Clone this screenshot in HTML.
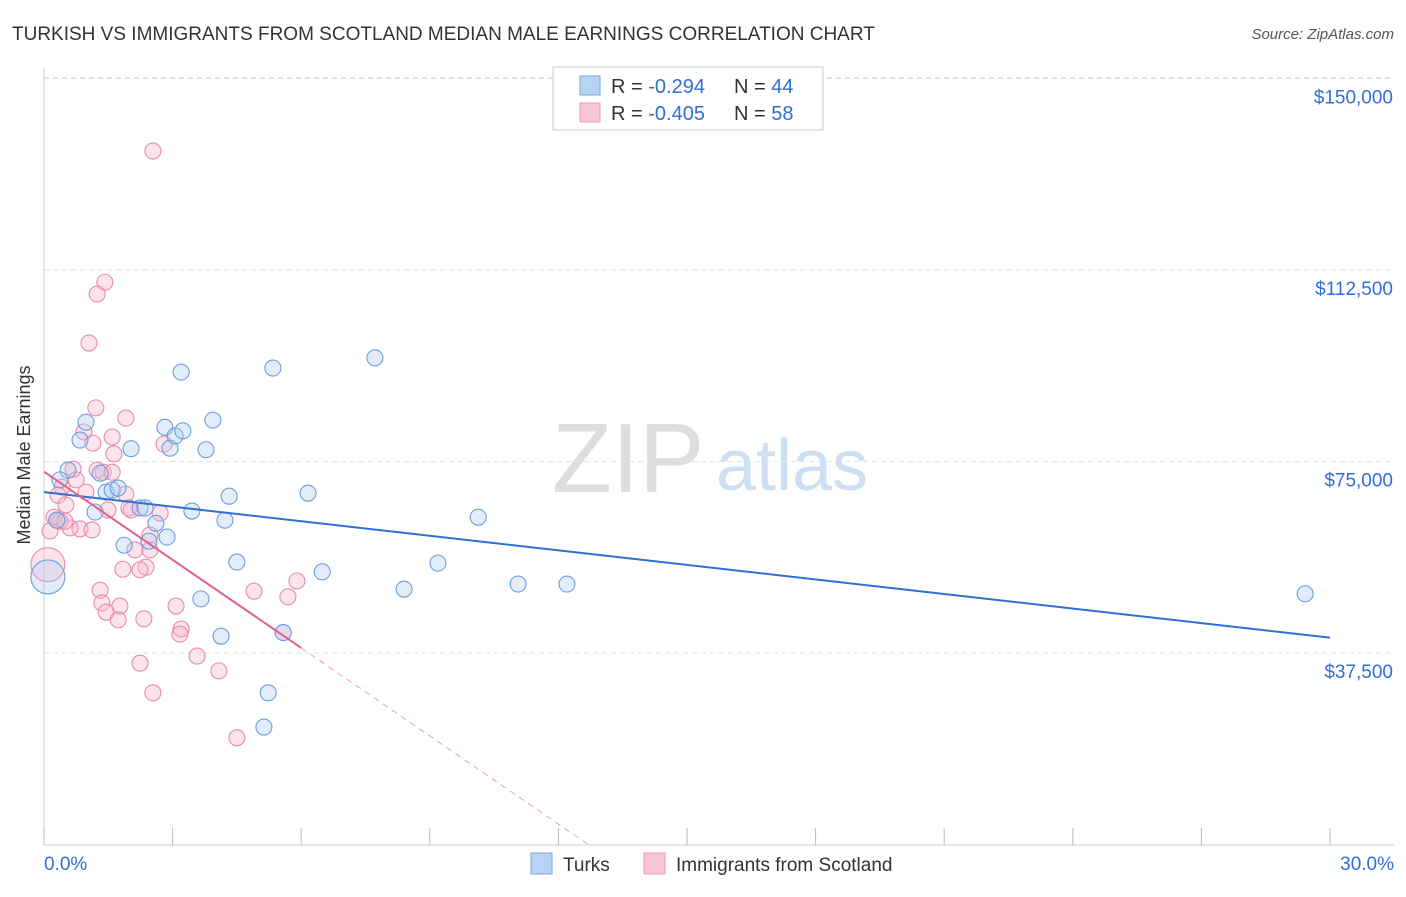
<!DOCTYPE html>
<html><head><meta charset="utf-8"><style>
body{margin:0;background:#fff;font-family:"Liberation Sans",sans-serif;}
svg text{font-family:"Liberation Sans",sans-serif;}
</style></head><body>
<svg id="chart" width="1406" height="892" xmlns="http://www.w3.org/2000/svg">
<text x="12" y="40" font-size="19" fill="#333">TURKISH VS IMMIGRANTS FROM SCOTLAND MEDIAN MALE EARNINGS CORRELATION CHART</text>
<text x="1394" y="39" font-size="15" fill="#555" text-anchor="end" font-style="italic">Source: ZipAtlas.com</text>
<text x="30" y="455" font-size="18" fill="#333" text-anchor="middle" transform="rotate(-90 30 455)">Median Male Earnings</text>
<g>
<text x="552" y="492" font-size="98" fill="#ddd" font-family="Liberation Serif">ZIP</text>
<text x="716" y="490" font-size="72" fill="#cfdff3">atlas</text>
</g>
<g id="grid"></g><g id="axes"></g><g id="marks"></g>
<g>
<rect x="553" y="67" width="270" height="63" fill="#fff" stroke="#ccc"/>
<rect x="580" y="76" width="20" height="19" fill="#b9d3f3" stroke="#7aa6df"/>
<rect x="580" y="103" width="20" height="19" fill="#f8c6d6" stroke="#ea9ab5"/>
<text x="611" y="93" font-size="20" fill="#333">R = <tspan fill="#2f6fd6">-0.294</tspan><tspan x="734">N = </tspan><tspan fill="#2f6fd6">44</tspan></text>
<text x="611" y="120" font-size="20" fill="#333">R = <tspan fill="#2f6fd6">-0.405</tspan><tspan x="734">N = </tspan><tspan fill="#2f6fd6">58</tspan></text>
</g>
<g>
<rect x="531" y="853" width="21" height="21" fill="#b9d3f3" stroke="#7aa6df"/>
<text x="563" y="871" font-size="19" fill="#333">Turks</text>
<rect x="644" y="853" width="21" height="21" fill="#f8c6d6" stroke="#ea9ab5"/>
<text x="676" y="871" font-size="19" fill="#333">Immigrants from Scotland</text>
</g>
</svg>
<script>
const yTicks=[37500,75000,112500,150000];
const yTickLabels=["$37,500","$75,000","$112,500","$150,000"];
const turksX=[0.56,0.37,0.30,0.84,0.98,1.31,1.45,1.59,1.73,1.19,1.87,2.03,2.24,2.36,2.82,2.94,3.06,3.24,3.20,2.61,2.87,2.45,3.45,3.78,3.94,4.32,4.22,4.50,3.66,4.13,5.23,5.13,5.34,6.16,6.49,7.72,8.40,9.19,10.13,11.06,12.20,29.42,0.09,5.58];
const turksY=[73.3,71.4,63.5,79.2,82.7,72.7,69.0,69.4,69.8,65.1,58.6,77.5,65.9,65.9,81.7,77.6,80.0,81.0,92.5,62.9,60.2,59.4,65.3,77.3,83.1,68.2,63.5,55.3,48.1,40.8,29.7,23.0,93.3,68.8,53.4,95.3,50.0,55.1,64.1,51.0,51.0,49.1,52.4,41.5];
const scotX=[2.54,1.42,1.24,1.05,1.21,1.91,1.59,1.14,0.93,2.80,1.63,0.68,0.75,0.42,0.33,1.38,1.91,1.98,2.03,2.71,1.49,0.51,0.23,0.37,0.14,0.84,0.61,2.47,2.12,1.84,2.38,1.31,1.35,1.77,1.45,1.73,2.33,3.08,3.20,3.17,4.90,5.90,5.69,5.58,3.57,4.08,2.24,2.54,4.50,0.09,1.24,0.98,0.30,0.49,2.47,1.59,2.24,1.12];
const scotY=[135.8,110.1,107.8,98.2,85.5,83.5,79.8,78.6,80.8,78.4,76.5,73.5,71.4,70.0,68.4,72.9,68.6,65.9,65.5,64.9,65.5,66.5,64.1,63.3,61.4,61.8,62.0,57.7,57.7,53.9,54.3,49.8,47.3,46.7,45.5,44.0,44.2,46.7,42.2,41.2,49.6,51.6,48.5,41.5,36.9,34.0,35.5,29.7,20.9,54.8,73.3,69.0,63.5,63.3,60.6,72.9,53.8,61.6];
const turksTrend=[69.0,40.5];
const scotTrend=[73.0,38.5];
const NS="http://www.w3.org/2000/svg";
const X=v=>44+v/30*1286;
const Y=v=>844.5-v/37.5*191.5;
function mk(t,a,p){const e=document.createElementNS(NS,t);for(const k in a)e.setAttribute(k,a[k]);p.appendChild(e);return e;}
const grid=document.getElementById('grid'),axes=document.getElementById('axes'),marks=document.getElementById('marks');
yTicks.forEach((t,i)=>{
 const l=mk('line',{x1:44,x2:1394,y1:Y(t/1000),y2:Y(t/1000),stroke:'#e3e3e3','stroke-dasharray':'5,4'},grid);
 
 
 const tx=mk('text',{x:1393,y:Y(t/1000)+25,'font-size':19,fill:'#2f6fd6','text-anchor':'end'},axes);
 tx.textContent=yTickLabels[i];
 
 
});
mk('line',{x1:44,x2:1394,y1:Y(150)-1,y2:Y(150)-1,stroke:'#e3e3e3','stroke-dasharray':'5,4'},grid);
mk('line',{x1:44,x2:44,y1:68,y2:845,stroke:'#ccc'},axes);
mk('line',{x1:44,x2:1394,y1:845,y2:845,stroke:'#ccc'},axes);
for(let i=0;i<=10;i++){mk('line',{x1:X(i*3),x2:X(i*3),y1:828,y2:845,stroke:'#bbb'},axes);}
const a0=mk('text',{x:44,y:870,'font-size':19,fill:'#2f6fd6'},axes);a0.textContent='0.0%';


const a1=mk('text',{x:1394,y:870,'font-size':19,fill:'#2f6fd6','text-anchor':'end'},axes);a1.textContent='30.0%';


function dots(xs,ys,fill,stroke,name){xs.forEach((x,i)=>{const big=x<0.1;
 const c=mk('circle',{cx:X(x),cy:Y(ys[i]),r:big?17:8,fill:fill,'fill-opacity':0.35,stroke:stroke,'stroke-width':1.1},marks);
 
 });}
dots(scotX,scotY,'#f5b3c9','#e98aab','scotland-point');
dots(turksX,turksY,'#aecbf0','#6b9ee0','turks-point');
const tl=mk('line',{x1:X(0),y1:Y(turksTrend[0]),x2:X(30),y2:Y(turksTrend[1]),stroke:'#2f6fd6','stroke-width':2},marks);


const slope=(scotTrend[1]-scotTrend[0])/6, xz=-scotTrend[0]/slope;
const sl=mk('line',{x1:X(0),y1:Y(scotTrend[0]),x2:X(6),y2:Y(scotTrend[1]),stroke:'#e2608e','stroke-width':2},marks);


const sd=mk('line',{x1:X(6),y1:Y(scotTrend[1]),x2:X(xz),y2:Y(0),stroke:'#e9a0ba','stroke-width':1,'stroke-dasharray':'6,5'},marks);


</script>
</body></html>
